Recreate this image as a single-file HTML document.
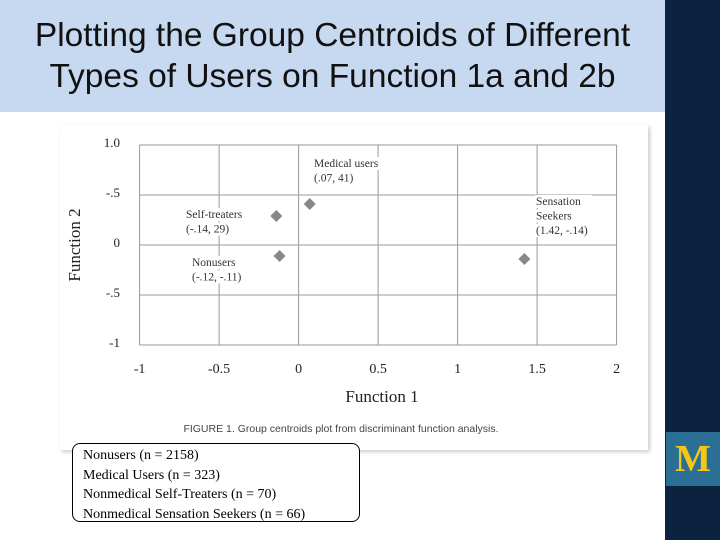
<!DOCTYPE html>
<html><head><meta charset="utf-8"><style>
body{margin:0;width:720px;height:540px;overflow:hidden;background:#fff;position:relative;font-family:"Liberation Sans",sans-serif}
#title{position:absolute;left:0;top:0;width:665px;height:112px;background:#c6d9f1;text-align:center;font-size:33.5px;line-height:41px;color:#111;padding-top:15px;box-sizing:border-box}
#side{position:absolute;left:665px;top:0;width:55px;height:540px;background:#0c2340}
#mbox{position:absolute;left:666px;top:432px;width:54px;height:54px;background:#2b6f95;color:#f5c518;font:bold 38px "Liberation Serif",serif;text-align:center;line-height:54px}
#fig{position:absolute;left:60px;top:125px;width:588px;height:325px;background:#fff;box-shadow:2px 2px 4px #ccc}
#legend{position:absolute;left:72px;top:443px;width:288px;height:79px;border:1.5px solid #000;border-radius:8px;font:14px "Liberation Serif",serif;line-height:19.5px;padding:2px 0 0 10px;box-sizing:border-box;background:#fff;color:#000}
</style></head><body>
<div id="title">Plotting the Group Centroids of Different<br>Types of Users on Function 1a and 2b</div>
<div id="side"></div>
<div id="mbox">M</div>
<div id="fig"></div>
<svg id="chart" width="720" height="540" style="position:absolute;left:0;top:0"></svg>
<div id="legend">Nonusers (n = 2158)<br>Medical Users (n = 323)<br>Nonmedical Self-Treaters (n = 70)<br>Nonmedical Sensation Seekers (n = 66)</div>
<script>
const groups=["Nonusers","Medical users","Self-treaters","Sensation Seekers"];
const xVals=[-0.12,0.07,-0.14,1.42];
const yVals=[-0.11,0.41,0.29,-0.14];
const xTicks=[-1,-0.5,0,0.5,1,1.5,2];
const xTickLabels=["-1","-0.5","0","0.5","1","1.5","2"];
const yTicks=[1,0.5,0,-0.5,-1];
const yTickLabels=["1.0","-.5","0","-.5","-1"];
const ns="http://www.w3.org/2000/svg",svg=document.getElementById('chart');
const X=v=>298.6+(v)*159, Y=v=>245-v*100;
function el(t,a,txt){const e=document.createElementNS(ns,t);for(const k in a)e.setAttribute(k,a[k]);if(txt!=null)e.textContent=txt;svg.appendChild(e);return e;}
const ser='font-family:"Liberation Serif",serif';
xTicks.forEach((t,i)=>{const l=el('line',{x1:X(t),x2:X(t),y1:Y(1),y2:Y(-1),stroke:'#999','stroke-width':1});

const tx=el('text',{x:X(t),y:373,'text-anchor':'middle','font-size':14,style:ser,fill:'#222'},xTickLabels[i]);
});
yTicks.forEach((t,i)=>{const l=el('line',{x1:X(-1),x2:X(2),y1:Y(t),y2:Y(t),stroke:'#999','stroke-width':1});

const tx=el('text',{x:120,y:Y(t)+2,'text-anchor':'end','font-size':13,style:ser,fill:'#222'},yTickLabels[i]);
});
const lab=[{x:192,y:266,l:["Nonusers","(-.12, -.11)"]},{x:314,y:167,l:["Medical users","(.07, 41)"]},{x:186,y:218,l:["Self-treaters","(-.14, 29)"]},{x:536,y:205,l:["Sensation","Seekers","(1.42, -.14)"]}];
groups.forEach((g,i)=>{const cx=X(xVals[i]),cy=Y(yVals[i]);
const p=el('polygon',{points:`${cx},${cy-6} ${cx+6},${cy} ${cx},${cy+6} ${cx-6},${cy}`,fill:'#888'});

const L=lab[i];L.l.forEach((s,j)=>{const r=el('rect',{x:L.x-1,y:L.y+j*14.5-10,width:s.length*6.3,height:13,fill:'#fff'});
const t=el('text',{x:L.x,y:L.y+j*14.5,'font-size':11.5,style:ser,fill:'#333'},s);
});});
const t1=el('text',{x:382,y:402,'text-anchor':'middle','font-size':17,style:ser,fill:'#222'},'Function 1');

const t2=el('text',{x:80,y:245,'text-anchor':'middle','font-size':17,style:ser,fill:'#222',transform:'rotate(-90 80 245)'},'Function 2');

const c=el('text',{x:341,y:432,'text-anchor':'middle','font-size':10.5,fill:'#444'},'FIGURE 1.  Group centroids plot from discriminant function analysis.');

</script>
</body></html>
